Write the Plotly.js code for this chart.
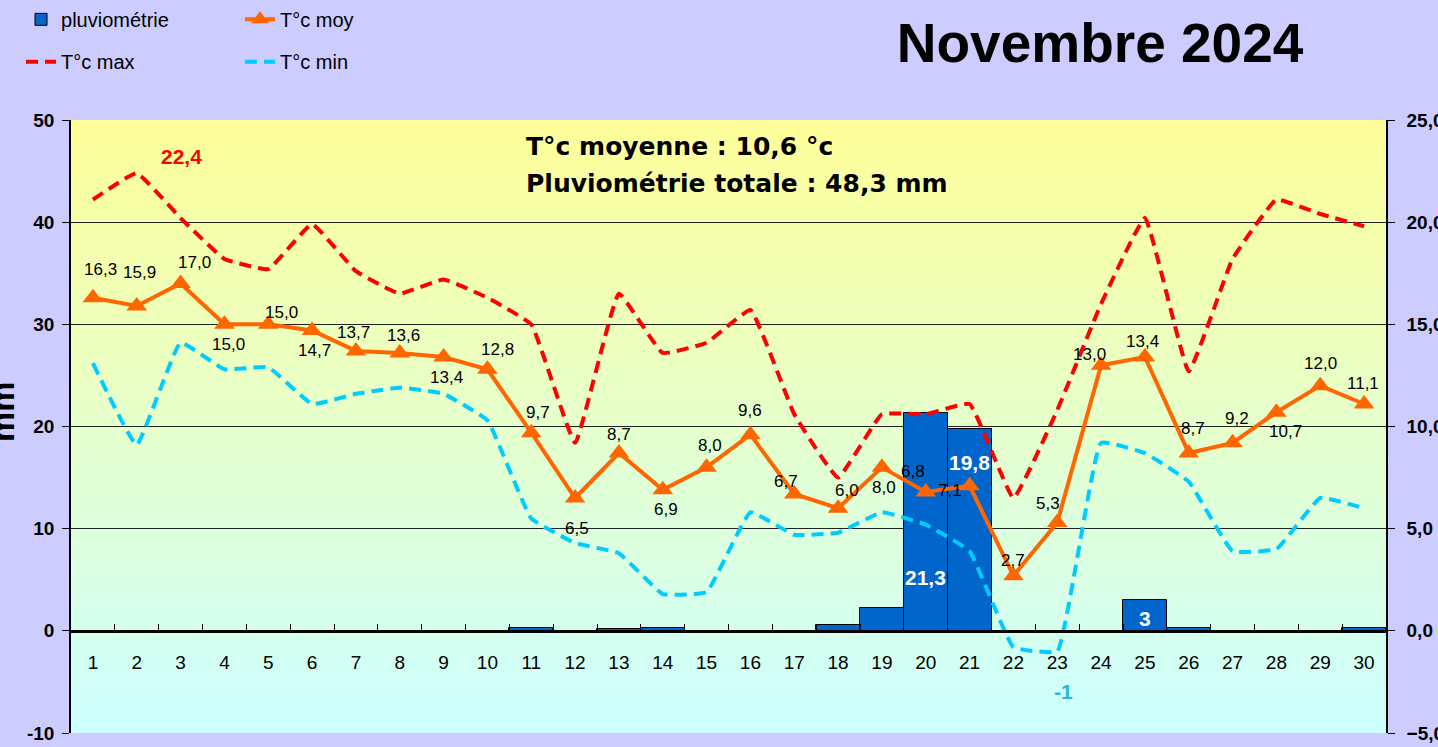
<!DOCTYPE html>
<html>
<head>
<meta charset="utf-8">
<script src="https://cdn.plot.ly/plotly-3.0.1.min.js"></script>
<style>
  html, body { margin: 0; padding: 0; background: #CCCCFF; }
  #chart { width: 1438px; height: 747px; }
</style>
</head>
<body>
<div id="chart"></div>
<script>
// ---- data ----
const days = ['1','2','3','4','5','6','7','8','9','10','11','12','13','14','15',
              '16','17','18','19','20','21','22','23','24','25','26','27','28','29','30'];
const rain = [0,0,0,0,0,0,0,0,0,0,0.3,0,0.2,0.3,0,0,0,0.6,2.2,21.3,19.8,0,0,0,3.0,0.3,0,0,0,0.3];
const tMoy = [16.3,15.9,17.0,15.0,15.0,14.7,13.7,13.6,13.4,12.8,9.7,6.5,8.7,6.9,8.0,
              9.6,6.7,6.0,8.0,6.8,7.1,2.7,5.3,13.0,13.4,8.7,9.2,10.7,12.0,11.1];
const tMax = [21.1,22.4,20.2,18.2,17.7,19.9,17.6,16.5,17.2,16.3,15.0,9.2,16.5,13.6,14.1,
              15.7,10.6,7.5,10.6,10.6,11.1,6.5,10.8,16.0,20.2,12.7,18.2,21.1,20.4,19.8];
const tMin = [13.1,9.1,14.1,12.8,12.9,11.1,11.6,11.9,11.6,10.3,5.5,4.3,3.8,1.8,1.9,
              5.8,4.7,4.8,5.8,5.2,3.9,-0.8,-1.0,9.2,8.7,7.3,3.9,4.0,6.5,6.0];
const leftTicks = [-10,0,10,20,30,40,50];
const rightTicks = [-5,0,5,10,15,20,25];

// ---- styles (label offsets in px, relative to each point) ----
const moyLabelDx = [8,3,14,4,13,2,-2,4,3,10,7,2,0,3,3,0,-8,9,2,-13,-20,0,-9,-12,-2,4,4,9,0,-1];
const moyLabelDy = [-28,-33,-21,20,-12,20,-18,-17,20,-20,-20,30,-19,20,-22,-24,-12,-18,20,-20,5,-15,-19,-11,-16,-25,-24,19,-22,-21];
const barLabelShift = {'20': -164, '21': -34, '25': -18};

const fmt1 = v => v.toFixed(1).replace('.', ',');
const fmtShort = v => String(v).replace('.', ',');

const meanT = tMoy.reduce((a, b) => a + b, 0) / tMoy.length;
const totalRain = rain.reduce((a, b) => a + b, 0);
const maxIdx = tMax.indexOf(Math.max(...tMax));
const minIdx = tMin.indexOf(Math.min(...tMin));

const traces = [
  {
    type: 'bar', name: 'pluviométrie', x: days, y: rain, yaxis: 'y',
    marker: { color: '#0066CC', line: { color: '#000000', width: 1 } },
    legend: 'legend', hoverinfo: 'x+y'
  },
  {
    type: 'scatter', mode: 'lines', name: 'T°c max', x: days, y: tMax, yaxis: 'y2',
    line: { color: '#FF0000', width: 4, dash: '12px,7px', shape: 'spline', smoothing: 0.3 },
    legend: 'legend2'
  },
  {
    type: 'scatter', mode: 'lines', name: 'T°c min', x: days, y: tMin, yaxis: 'y2',
    line: { color: '#00CCFF', width: 4, dash: '12px,7px', shape: 'spline', smoothing: 0.3 },
    legend: 'legend2'
  },
  {
    type: 'scatter', mode: 'lines+markers', name: 'T°c moy', x: days, y: tMoy, yaxis: 'y2',
    line: { color: '#FF6600', width: 4 },
    marker: { symbol: 'triangle-up', size: 18, color: '#FF6600' },
    cliponaxis: false, legend: 'legend'
  }
];

const annotations = [
  { xref: 'paper', yref: 'paper', x: 0.3445, y: 0.956, xanchor: 'left', yanchor: 'middle',
    text: 'T°c moyenne : ' + fmt1(meanT) + ' °c', showarrow: false,
    font: { family: 'DejaVu Sans', size: 25, weight: 'bold', color: '#000000' } },
  { xref: 'paper', yref: 'paper', x: 0.3445, y: 0.897, xanchor: 'left', yanchor: 'middle',
    text: 'Pluviométrie totale : ' + fmt1(totalRain) + ' mm', showarrow: false,
    font: { family: 'DejaVu Sans', size: 25, weight: 'bold', color: '#000000' } },
  { xref: 'x', yref: 'y2', x: maxIdx, y: tMax[maxIdx], xshift: 45, yshift: 17,
    text: fmtShort(tMax[maxIdx]), showarrow: false,
    font: { family: 'Liberation Sans, Arial', size: 21, weight: 'bold', color: '#FF0000' } },
  { xref: 'x', yref: 'y2', x: minIdx, y: tMin[minIdx], xshift: 6, yshift: -40,
    text: fmtShort(tMin[minIdx]), showarrow: false,
    font: { family: 'Liberation Sans, Arial', size: 21, weight: 'bold', color: '#28B4E6' } },
  { xref: 'paper', yref: 'paper', x: -0.0525, y: 0.5237, xanchor: 'center', yanchor: 'middle',
    text: 'mm', textangle: -90, showarrow: false,
    font: { family: 'Liberation Sans, Arial', size: 34, weight: 'bold', color: '#000000' } }
];
tMoy.forEach((v, i) => {
  annotations.push({
    xref: 'x', yref: 'y2', x: i, y: v, xshift: moyLabelDx[i], yshift: -moyLabelDy[i],
    xanchor: 'center', yanchor: 'middle', text: fmt1(v), showarrow: false,
    font: { family: 'Liberation Sans, Arial', size: 17, color: '#000000' }
  });
});
days.forEach((d, i) => {
  if (barLabelShift[d] !== undefined) {
    annotations.push({
      xref: 'x', yref: 'y', x: i, y: rain[i], yshift: barLabelShift[d], yanchor: 'middle',
      text: fmtShort(rain[i]), showarrow: false,
      font: { family: 'Liberation Sans, Arial', size: 21, weight: 'bold', color: '#FFFFFF' }
    });
  }
});

const gradSvg = "<svg xmlns='http://www.w3.org/2000/svg' width='10' height='100' preserveAspectRatio='none'>" +
  "<defs><linearGradient id='g' x1='0' y1='0' x2='0' y2='1'>" +
  "<stop offset='0' stop-color='#FFFF99'/><stop offset='1' stop-color='#CCFFFF'/>" +
  "</linearGradient></defs><rect width='10' height='100' fill='url(#g)'/></svg>";

const axisFontBold = { family: 'Liberation Sans, Arial', size: 19, weight: 'bold', color: '#000000' };

const layout = {
  width: 1438, height: 747,
  margin: { l: 71, r: 52, t: 120, b: 14, pad: 0, autoexpand: false },
  paper_bgcolor: '#CCCCFF',
  plot_bgcolor: 'rgba(0,0,0,0)',
  separators: ', ',
  bargap: 0,
  showlegend: true,
  font: { family: 'Liberation Sans, Arial', color: '#000000' },
  title: {
    text: 'Novembre 2024', xref: 'container', yref: 'container',
    x: 0.765, xanchor: 'center', y: 0.943, yanchor: 'middle',
    font: { family: 'Liberation Sans, Arial', size: 55, weight: 'bold', color: '#000000' }
  },
  images: [{
    source: 'data:image/svg+xml;base64,' + btoa(gradSvg),
    xref: 'paper', yref: 'paper', x: 0, y: 1, sizex: 1, sizey: 1,
    xanchor: 'left', yanchor: 'top', sizing: 'stretch', layer: 'below'
  }],
  xaxis: {
    type: 'category', categoryorder: 'array', categoryarray: days,
    range: [-0.5, 29.5], anchor: 'free', position: 10 / 60,
    tickson: 'boundaries', ticks: 'inside', ticklen: 6, tickcolor: '#000000', tickwidth: 1,
    showline: true, linecolor: '#000000', linewidth: 2.5,
    showgrid: false, zeroline: false,
    tickfont: { family: 'Liberation Sans, Arial', size: 19, color: '#000000' },
    ticklabelstandoff: 14
  },
  yaxis: {
    range: [-10, 50], tickvals: leftTicks, ticktext: leftTicks.map(String),
    ticks: 'outside', ticklen: 7, tickcolor: '#000000',
    showline: true, linecolor: '#000000', linewidth: 1.5,
    showgrid: true, gridcolor: '#222222', gridwidth: 1.3, zeroline: false,
    tickfont: axisFontBold, ticklabelstandoff: 4
  },
  yaxis2: {
    range: [-5, 25], tickvals: rightTicks, tickformat: '.1f',
    overlaying: 'y', side: 'right', anchor: 'x',
    ticks: 'outside', ticklen: 7, tickcolor: '#000000',
    showline: true, linecolor: '#000000', linewidth: 1.5,
    showgrid: false, zeroline: false,
    tickfont: axisFontBold, ticklabelstandoff: 8
  },
  legend: {
    x: -0.038, xanchor: 'left', y: 1.196, yanchor: 'top', orientation: 'h',
    entrywidth: 174, entrywidthmode: 'pixels', bgcolor: 'rgba(0,0,0,0)',
    font: { family: 'Liberation Sans, Arial', size: 20, color: '#000000' }
  },
  legend2: {
    x: -0.038, xanchor: 'left', y: 1.127, yanchor: 'top', orientation: 'h',
    entrywidth: 174, entrywidthmode: 'pixels', bgcolor: 'rgba(0,0,0,0)',
    font: { family: 'Liberation Sans, Arial', size: 20, color: '#000000' }
  },
  annotations: annotations
};

Plotly.newPlot('chart', traces, layout, { displayModeBar: false, responsive: false });
</script>
</body>
</html>
